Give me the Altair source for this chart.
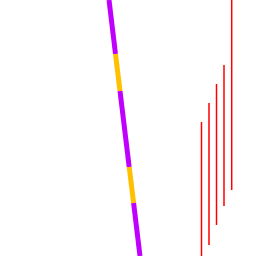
import altair as alt
import pandas as pd

# thick two-colour line, split into segments (top-to-bottom coordinates)
seg_y0 = [0, 54, 91, 167, 203]
seg_y1 = [54, 91, 167, 203, 256]
seg_x0 = [109, 115.5, 120.0, 129.2, 133.6]
seg_x1 = [115.5, 120.0, 129.2, 133.6, 140]
seg_color = ["purple", "amber", "purple", "amber", "purple"]

# red vertical lines
red_x = [201.5, 209, 216.5, 224, 231.7]
red_top = [122, 103, 84, 65, -5]
red_bottom = [262, 245, 225, 206, 190]

seg_df = pd.DataFrame({"x0": seg_x0, "x1": seg_x1, "y0": seg_y0, "y1": seg_y1, "c": seg_color})
red_df = pd.DataFrame({"x": red_x, "y0": red_top, "y1": red_bottom})

xs = alt.Scale(domain=[0, 256], nice=False, zero=False)
ys = alt.Scale(domain=[0, 256], nice=False, zero=False, reverse=True)

segs = alt.Chart(seg_df).mark_rule(strokeWidth=5, strokeCap="butt", clip=True).encode(
    x=alt.X("x0:Q", scale=xs, axis=None),
    x2="x1:Q",
    y=alt.Y("y0:Q", scale=ys, axis=None),
    y2="y1:Q",
    color=alt.Color("c:N", scale=alt.Scale(domain=["purple", "amber"], range=["#c000ff", "#ffc000"]), legend=None),
)

reds = alt.Chart(red_df).mark_rule(strokeWidth=1.5, color="#ff0000", clip=True).encode(
    x=alt.X("x:Q", scale=xs, axis=None),
    y=alt.Y("y0:Q", scale=ys, axis=None),
    y2="y1:Q",
)

chart = alt.layer(segs, reds).properties(
    width=256, height=256, padding=0, autosize=alt.AutoSizeParams(type="none")
).configure_view(stroke=None)

chart.save("out.html", embed_options={"renderer": "svg", "actions": False})
